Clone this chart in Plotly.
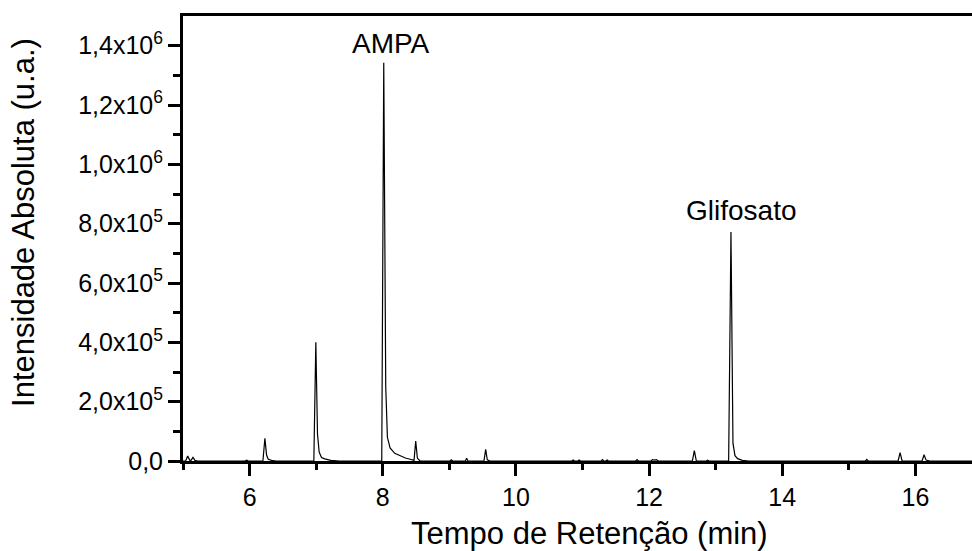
import plotly.graph_objects as go

# Chromatogram points (time in min, intensity in a.u.)
time_min = [
    5.00, 5.04, 5.07, 5.10, 5.12, 5.15, 5.18, 5.22, 5.93, 5.957, 5.98,
    6.20, 6.23, 6.255, 6.28, 6.33, 6.40,
    6.965, 6.995, 7.02, 7.045, 7.08, 7.13, 7.22, 7.35,
    7.985, 8.015, 8.045, 8.07, 8.11, 8.18, 8.26, 8.34, 8.41, 8.45,
    8.47, 8.495, 8.52, 8.56,
    9.01, 9.03, 9.05, 9.24, 9.26, 9.28, 9.52, 9.546, 9.57, 9.61,
    10.84, 10.86, 10.88, 10.93, 10.95, 10.97,
    11.28, 11.30, 11.32, 11.35, 11.37, 11.39,
    11.80, 11.82, 11.84, 12.03, 12.05, 12.08, 12.11, 12.14,
    12.65, 12.68, 12.71, 12.86, 12.88, 12.90,
    13.195, 13.23, 13.26, 13.29, 13.33, 13.40, 13.50,
    15.25, 15.27, 15.29, 15.74, 15.77, 15.80,
    16.10, 16.13, 16.16, 16.22, 16.85,
]
intensity = [
    0, 0, 17000, 3000, 2000, 12000, 2000, 0, 0, 3000, 0,
    0, 76500, 20000, 6000, 2000, 0,
    0, 400000, 90000, 30000, 12000, 7000, 2000, 0,
    0, 1342000, 250000, 80000, 43800, 26000, 17000, 10000, 6000, 2000,
    2000, 67000, 10000, 0,
    0, 4000, 0, 0, 9000, 0, 0, 39000, 4000, 0,
    0, 3500, 0, 0, 3500, 0,
    0, 4500, 0, 0, 3500, 0,
    0, 4500, 0, 0, 4500, 3000, 4500, 0,
    0, 35000, 0, 0, 3000, 0,
    0, 772000, 60000, 18000, 8000, 2000, 0,
    0, 5000, 0, 0, 28000, 0,
    0, 21000, 3000, 0, 0,
]

peak_names = ["AMPA", "Glifosato"]
peak_label_x = [8.13, 13.39]
peak_label_y = [1.408e6, 0.845e6]

y_tickvals = [0, 2e5, 4e5, 6e5, 8e5, 1.0e6, 1.2e6, 1.4e6]
y_ticktext = ["0,0", "2,0x10<sup>5</sup>", "4,0x10<sup>5</sup>", "6,0x10<sup>5</sup>",
              "8,0x10<sup>5</sup>", "1,0x10<sup>6</sup>", "1,2x10<sup>6</sup>",
              "1,4x10<sup>6</sup>"]
x_tickvals = [6, 8, 10, 12, 14, 16]
x_ticktext = ["6", "8", "10", "12", "14", "16"]

FONT = "Liberation Sans, Arial, sans-serif"

fig = go.Figure()
fig.add_trace(go.Scatter(
    x=time_min, y=intensity, mode="lines",
    line=dict(color="black", width=1.2), showlegend=False,
    hoverinfo="skip",
))

for name, lx, ly in zip(peak_names, peak_label_x, peak_label_y):
    fig.add_annotation(x=lx, y=ly, text=name, showarrow=False,
                       xanchor="center", yanchor="middle",
                       font=dict(family=FONT, size=28, color="black"))

# axis titles
fig.add_annotation(xref="paper", yref="paper", x=-0.2015, y=0.535,
                   text="Intensidade Absoluta (u.a.)", textangle=-90,
                   showarrow=False, xanchor="center", yanchor="middle",
                   font=dict(family=FONT, size=31, color="black"))
fig.add_annotation(xref="paper", yref="paper", x=0.5146, y=-0.162,
                   text="Tempo de Retenção (min)",
                   showarrow=False, xanchor="center", yanchor="middle",
                   font=dict(family=FONT, size=31, color="black"))

fig.update_layout(
    width=972, height=551,
    margin=dict(l=183, r=0, t=16, b=90),
    paper_bgcolor="white", plot_bgcolor="white",
    font=dict(family=FONT, color="black"),
)
fig.update_xaxes(
    range=[5.0, 16.85], showgrid=False, zeroline=False,
    showline=True, linecolor="black", linewidth=3, mirror=True,
    tickmode="array", tickvals=x_tickvals, ticktext=x_ticktext,
    ticks="outside", ticklen=12, tickwidth=3, tickcolor="black",
    ticklabelstandoff=0,
    tickfont=dict(family=FONT, size=25, color="black"),
    minor=dict(dtick=1, tick0=5, ticks="outside", ticklen=6, tickwidth=2.5,
               tickcolor="black", showgrid=False),
)
fig.update_yaxes(
    range=[0, 1.5e6], showgrid=False, zeroline=False,
    showline=True, linecolor="black", linewidth=3,
    tickmode="array", tickvals=y_tickvals, ticktext=y_ticktext,
    ticks="outside", ticklen=12, tickwidth=3, tickcolor="black",
    tickfont=dict(family=FONT, size=25, color="black"),
    minor=dict(tickvals=[1e5, 3e5, 5e5, 7e5, 9e5, 1.1e6, 1.3e6], ticks="outside",
               ticklen=7, tickwidth=2.5, tickcolor="black", showgrid=False),
)

fig.write_html("out.html")
